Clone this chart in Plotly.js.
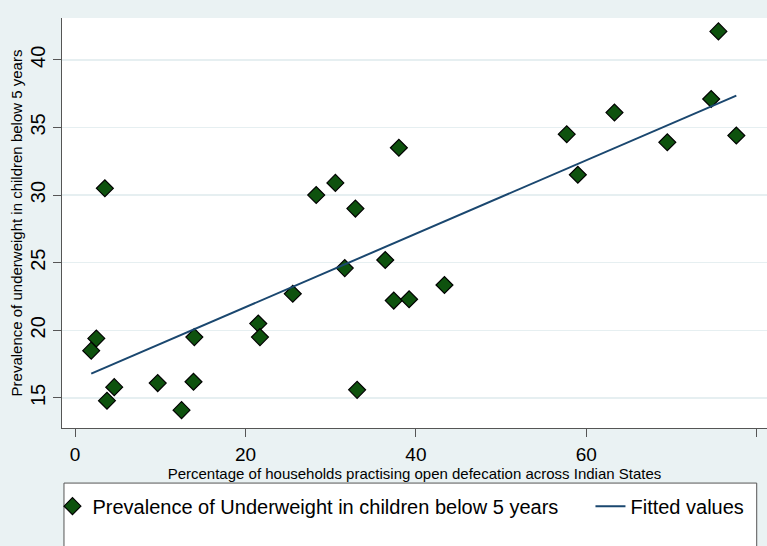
<!DOCTYPE html>
<html>
<head>
<meta charset="utf-8">
<script src="https://cdn.plot.ly/plotly-3.0.1.min.js"></script>
<style>html,body{margin:0;padding:0;background:#eaf2f3;}#chart{width:767px;height:546px;}</style>
</head>
<body>
<div id="chart"></div>
<script>
// Percentage of households practising open defecation (x) vs prevalence of underweight (y)
const openDefecation = [1.9, 2.5, 3.5, 3.75, 4.6, 9.7, 12.5, 13.9, 14.0, 21.5, 21.7,
  25.55, 28.3, 30.55, 31.65, 32.9, 33.1, 36.4, 37.4, 38.0, 39.2, 43.35,
  57.7, 59.0, 63.3, 69.5, 74.65, 75.5, 77.6];
const underweight = [18.5, 19.4, 30.5, 14.8, 15.8, 16.1, 14.1, 16.2, 19.5, 20.5, 19.5,
  22.7, 30.0, 30.9, 24.6, 29.0, 15.6, 25.2, 22.2, 33.5, 22.3, 23.35,
  34.5, 31.5, 36.1, 33.9, 37.1, 42.1, 34.4];
// Fitted line end points
const fitX = [1.9, 77.6];
const fitY = [16.8, 37.35];
const xTicks = [0, 20, 40, 60, 80];
const yTicks = [15, 20, 25, 30, 35, 40];

const font = '"Liberation Sans", Arial, sans-serif';

const traces = [
  {
    x: openDefecation, y: underweight, type: 'scatter', mode: 'markers',
    name: 'Prevalence of Underweight in children below 5 years',
    legend: 'legend',
    marker: {symbol: 'diamond', size: 13, color: '#0e520e', line: {color: '#000000', width: 1.2}}
  },
  {
    x: fitX, y: fitY, type: 'scatter', mode: 'lines',
    name: 'Fitted values',
    legend: 'legend2',
    line: {color: '#1a476f', width: 2}
  }
];

const legendCommon = {
  orientation: 'h', xanchor: 'left', y: -0.143, yanchor: 'top',
  bgcolor: 'rgba(0,0,0,0)', borderwidth: 0,
  font: {family: font, size: 20, color: '#000'},
  itemwidth: 30
};

const layout = {
  width: 767, height: 546,
  margin: {l: 62, r: 0, t: 18, b: 118, autoexpand: false},
  paper_bgcolor: '#eaf2f3',
  plot_bgcolor: '#ffffff',
  showlegend: true,
  xaxis: {
    range: [-1.53, 81.2],
    tickvals: xTicks, ticktext: xTicks.map(String),
    showgrid: false, zeroline: false,
    showline: true, linecolor: '#555555', linewidth: 1,
    ticks: 'outside', ticklen: 8, tickcolor: '#555555',
    tickfont: {family: font, size: 19, color: '#000'},
    ticklabelstandoff: 1,
    title: {text: 'Percentage of households practising open defecation across Indian States',
            font: {family: font, size: 15, color: '#000'}, standoff: 0}
  },
  yaxis: {
    range: [12.78, 43.09],
    tickvals: yTicks, ticktext: yTicks.map(String),
    showgrid: true, gridcolor: '#e6eff1', gridwidth: 1.5,
    zeroline: false,
    showline: true, linecolor: '#555555', linewidth: 1,
    ticks: 'outside', ticklen: 8, tickcolor: '#555555',
    tickangle: -90,
    tickfont: {family: font, size: 20, color: '#000'},
    title: {text: 'Prevalence of underweight in children below 5 years',
            font: {family: font, size: 15, color: '#000'}, standoff: 0}
  },
  legend: Object.assign({}, legendCommon, {x: -0.0135}),
  legend2: Object.assign({}, legendCommon, {x: 0.7496}),
  shapes: [
    {type: 'rect', xref: 'paper', yref: 'paper', x0: 0.0028, x1: 0.9854, y0: -0.1343, y1: -0.35,
     fillcolor: '#ffffff', line: {color: '#555555', width: 1}, layer: 'below'}
  ]
};

Plotly.newPlot('chart', traces, layout, {displayModeBar: false, staticPlot: true});
</script>
</body>
</html>
